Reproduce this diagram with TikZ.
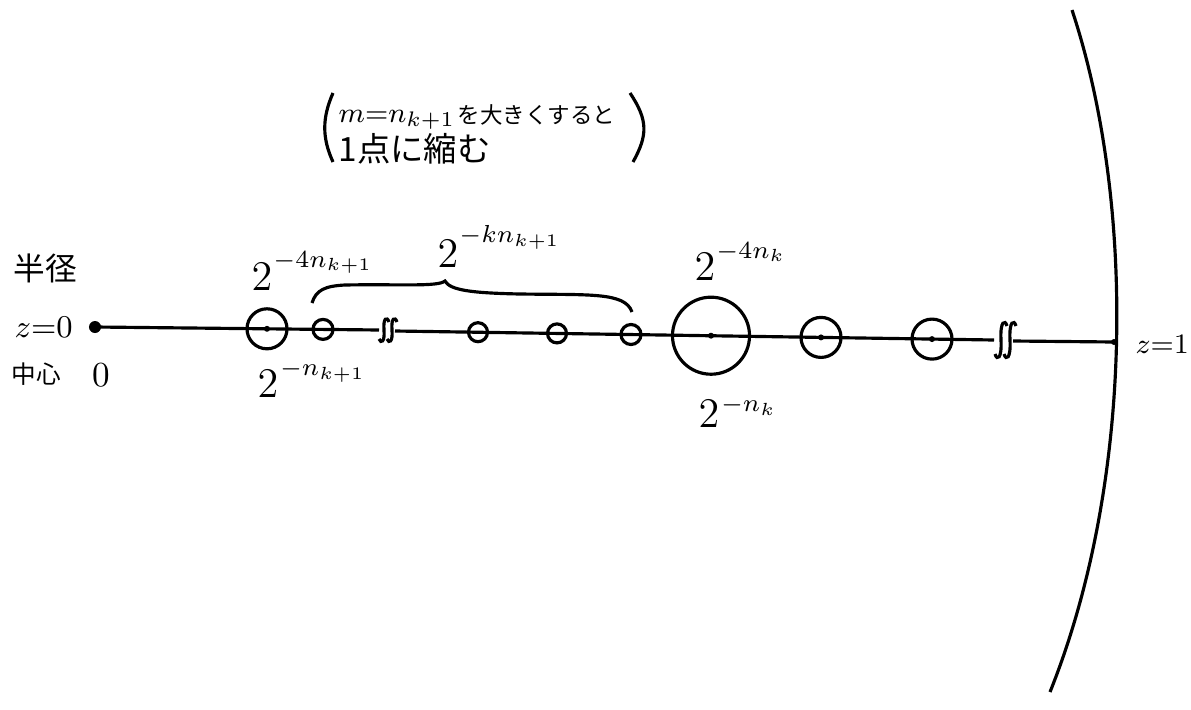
\documentclass[tikz,border=0pt]{standalone}
\usepackage{fontspec}
\newfontfamily\cjk{Noto Sans CJK JP}
\newcommand\twopow[3]{$2$\kern#2\raisebox{#3}{\fontsize{7.5}{9}\selectfont$#1$}}
\begin{document}
\begin{tikzpicture}[x=0.01cm,y=-0.01cm,line width=0.9pt,
  dotnode/.style={circle,fill,inner sep=0pt,minimum size=0.12cm},
  cdot/.style={circle,fill,inner sep=0pt,minimum size=0.06cm},
  ringnode/.style={circle,draw,inner sep=0pt,minimum size=#1},
  lbl/.style={inner sep=0pt,anchor=base west,font=\fontsize{12}{14}\selectfont},
  zlbl/.style={inner sep=0pt,anchor=west,font=\fontsize{8.5}{10}\selectfont},
  jp/.style={inner sep=0pt,anchor=west,font=\cjk\fontsize{#1}{#1}\selectfont}]
\useasboundingbox (0,0) rectangle (1191,709);
% boundary arc
\draw (1072,10) .. controls (1135,200) and (1135,480) .. (1050,692);
% main radius line
\node[dotnode] (z0) at (95,327) {};
\coordinate (b1l) at (379,330);
\coordinate (b1r) at (395,331);
\coordinate (b2l) at (994,340);
\coordinate (b2r) at (1013,341);
\coordinate (z1) at (1114,342);
\draw (z0.center) -- (b1l);
\draw (b1r) -- (b2l);
\draw (b2r) -- (z1);
\node[cdot] (z1d) at (z1) {};
% break marks
\foreach \x in {384,392}
  \draw (\x+5,322) .. controls (\x+3,316) and (\x-1,318) .. (\x,330)
    .. controls (\x+1,342) and (\x-3,344) .. (\x-5,339);
\foreach \x in {1001,1010}
  \draw (\x+6,326) .. controls (\x+4,319) and (\x-1,321) .. (\x,340)
    .. controls (\x+1,359) and (\x-4,361) .. (\x-6,354);
% discs
\node[ringnode=0.4cm] (c1) at (267,328.8) {};
\node[cdot] (c1d) at (c1) {};
\node[ringnode=0.2cm] (s1) at (323,329.4) {};
\node[ringnode=0.19cm] (s2) at (478,332.2) {};
\node[ringnode=0.19cm] (s3) at (557,333.4) {};
\node[ringnode=0.2cm] (s4) at (631,334.5) {};
\node[ringnode=0.77cm] (C) at (711,335.7) {};
\node[cdot] (Cd) at (C) {};
\node[ringnode=0.4cm] (c2) at (821,337.4) {};
\node[cdot] (c2d) at (c2) {};
\node[ringnode=0.4cm] (c3) at (932,339.1) {};
\node[cdot] (c3d) at (c3) {};
% brace
\draw (312,303) .. controls (316,290) and (325,286) .. (345,285)
  .. controls (400,284) and (438,287) .. (445,281)
  .. controls (450,290) and (470,293) .. (520,294)
  .. controls (590,295) and (625,292) .. (632,312);
% power labels
\node[lbl] (t1) at (250,290) {\twopow{-4n_{k+1}}{0.3pt}{6.5pt}};
\node[lbl] (t2) at (256,397) {\twopow{-n_{k+1}}{0.5pt}{6pt}};
\node[lbl] (t3) at (436,267) {\twopow{-kn_{k+1}}{0.3pt}{7pt}};
\node[lbl] (t4) at (693,280) {\twopow{-4n_{k}}{0.3pt}{6.2pt}};
\node[lbl] (t5) at (697,427) {\twopow{-n_{k}}{0.5pt}{4.3pt}};
% left labels
\node[jp=9] (hk) at (12,268) {半径};
\node[zlbl,font=\fontsize{9}{10}\selectfont] (lz0) at (13,327) {$z{=}0$};
\node[jp=7] (cs) at (10,374) {中心};
\node[inner sep=0pt,font=\fontsize{10}{12}\selectfont] (l0) at (101,375) {$0$};
\node[zlbl] (lz1) at (1134,344) {$z{=}1$};
% note
\draw (333,93) .. controls (322,118) and (322,138) .. (333,162);
\draw (630,93) .. controls (648,120) and (648,135) .. (633,162);
\node[inner sep=0pt,anchor=base west,font=\fontsize{8}{10}\selectfont] (n1a) at (337,122) {$m{=}n_{k+1}$};
\node[jp=6.4] (n1b) at (456,115) {を大きくすると};
\node[jp=9.5] (n2) at (337,149) {1点に縮む};
\end{tikzpicture}
\end{document}
